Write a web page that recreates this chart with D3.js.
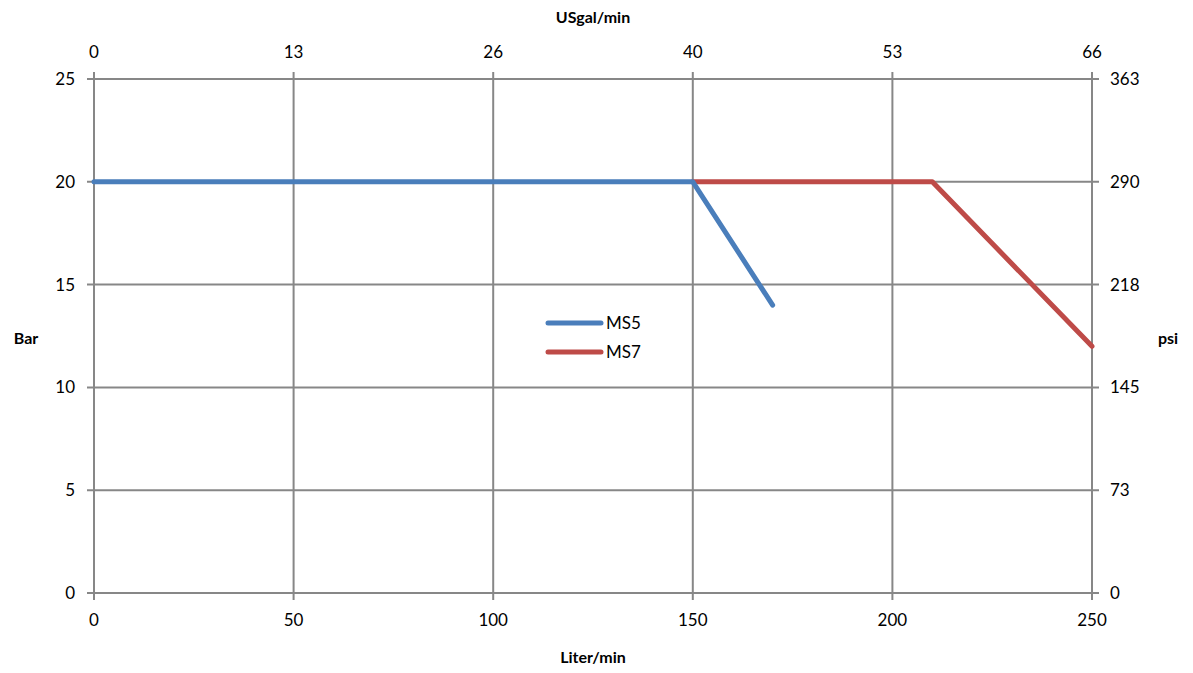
<!DOCTYPE html>
<html>
<head>
<meta charset="utf-8">
<script src="https://cdn.jsdelivr.net/npm/d3@7"></script>
<style>
  body { margin: 0; background: #fff; }
  text { font-family: Lato, "Open Sans", sans-serif; fill: #000; }
</style>
</head>
<body>
<div id="chart"></div>
<script>
// data
const ms5X = [0, 150, 170];
const ms5Y = [20, 20, 14];
const ms7X = [150, 210, 250];
const ms7Y = [20, 20, 12];
const seriesNames = ["MS5", "MS7"];
const seriesColors = ["#4a7ebb", "#be4b48"];

const bottomTicks = [0, 50, 100, 150, 200, 250];
const topTickLabels = ["0", "13", "26", "40", "53", "66"];
const leftTicks = [0, 5, 10, 15, 20, 25];
const rightTickLabels = ["0", "73", "145", "218", "290", "363"];

const W = 1193, H = 673;
let margin = { top: 79, right: 101, bottom: 80, left: 94 };
let width = W - margin.left - margin.right;
let height = H - margin.top - margin.bottom;

let svg = d3.select("#chart").append("svg")
    .attr("width", W).attr("height", H);
let g = svg.append("g")
    .attr("transform", `translate(${margin.left},${margin.top})`);

let x = d3.scaleLinear().domain([0, 250]).range([0, width]);
let y = d3.scaleLinear().domain([0, 25]).range([height, 0]);

const gridColor = "#878787";

// gridlines (they run past the plot edge as tick marks)
g.selectAll(".vgrid").data(bottomTicks).enter().append("line")
    .attr("x1", d => x(d)).attr("x2", d => x(d))
    .attr("y1", -7).attr("y2", height + 7)
    .attr("stroke", gridColor).attr("stroke-width", 2);
g.selectAll(".hgrid").data(leftTicks).enter().append("line")
    .attr("x1", -7).attr("x2", width + 7)
    .attr("y1", d => y(d)).attr("y2", d => y(d))
    .attr("stroke", gridColor).attr("stroke-width", 2);

// tick labels
const fs = "17px";
g.selectAll(".bl").data(bottomTicks).enter().append("text")
    .attr("x", d => x(d)).attr("y", height + 33)
    .attr("text-anchor", "middle").style("font-size", fs)
    .text(d => d);
g.selectAll(".tl").data(bottomTicks).enter().append("text")
    .attr("x", d => x(d)).attr("y", -21)
    .attr("text-anchor", "middle").style("font-size", fs)
    .text((d, i) => topTickLabels[i]);
g.selectAll(".ll").data(leftTicks).enter().append("text")
    .attr("x", -19).attr("y", d => y(d)).attr("dy", "0.35em")
    .attr("text-anchor", "end").style("font-size", fs)
    .text(d => d);
g.selectAll(".rl").data(leftTicks).enter().append("text")
    .attr("x", width + 18).attr("y", d => y(d)).attr("dy", "0.35em")
    .attr("text-anchor", "start").style("font-size", fs)
    .text((d, i) => rightTickLabels[i]);

// axis titles
svg.append("text").attr("x", margin.left + width / 2).attr("y", 663)
    .attr("text-anchor", "middle").style("font-size", "16px").style("font-weight", "bold")
    .text("Liter/min");
svg.append("text").attr("x", margin.left + width / 2).attr("y", 23)
    .attr("text-anchor", "middle").style("font-size", "16px").style("font-weight", "bold")
    .text("USgal/min");
svg.append("text").attr("x", 26).attr("y", 338).attr("dy", "0.35em")
    .attr("text-anchor", "middle").style("font-size", "16px").style("font-weight", "bold")
    .text("Bar");
svg.append("text").attr("x", 1168).attr("y", 338).attr("dy", "0.35em")
    .attr("text-anchor", "middle").style("font-size", "16px").style("font-weight", "bold")
    .text("psi");

// lines
let line = d3.line().x(d => x(d[0])).y(d => y(d[1]));
let series = [
    d3.zip(ms5X, ms5Y),
    d3.zip(ms7X, ms7Y)
];
// MS7 first so MS5 sits on top at the junction
[1, 0].forEach(i => {
    g.append("path").datum(series[i])
        .attr("d", line)
        .attr("fill", "none")
        .attr("stroke", seriesColors[i])
        .attr("stroke-width", 5)
        .attr("stroke-linecap", "round")
        .attr("stroke-linejoin", "round");
});

// legend
let legend = svg.append("g").attr("transform", "translate(548,323)");
seriesNames.forEach((name, i) => {
    legend.append("line")
        .attr("x1", 0).attr("x2", 53)
        .attr("y1", i * 29).attr("y2", i * 29)
        .attr("stroke", seriesColors[i]).attr("stroke-width", 5)
        .attr("stroke-linecap", "round");
    legend.append("text")
        .attr("x", 58).attr("y", i * 29).attr("dy", "0.35em")
        .style("font-size", fs)
        .text(name);
});
</script>
</body>
</html>
